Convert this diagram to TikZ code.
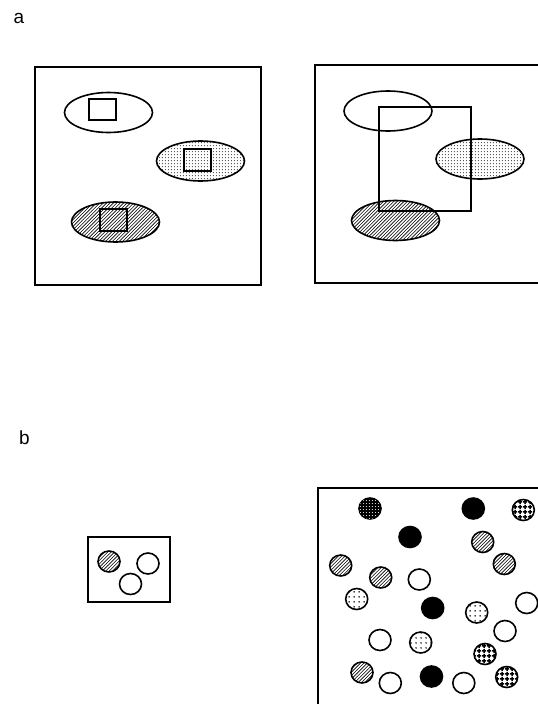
\documentclass[tikz,border=0pt]{standalone}
\usepackage{fontspec}
\setmainfont{Liberation Sans}
\usetikzlibrary{patterns}
\pgfdeclarepatternformonly{gridsq}{\pgfqpoint{0pt}{0pt}}{\pgfqpoint{4.5pt}{4.5pt}}{\pgfqpoint{4.5pt}{4.5pt}}{%
  \pgfsetlinewidth{1.8pt}%
  \pgfpathmoveto{\pgfqpoint{2.25pt}{0pt}}\pgfpathlineto{\pgfqpoint{2.25pt}{4.5pt}}%
  \pgfpathmoveto{\pgfqpoint{0pt}{2.25pt}}\pgfpathlineto{\pgfqpoint{4.5pt}{2.25pt}}%
  \pgfusepath{stroke}}
\pgfdeclarepatternformonly{dotgrid}{\pgfqpoint{0pt}{0pt}}{\pgfqpoint{4.5pt}{4.5pt}}{\pgfqpoint{4.5pt}{4.5pt}}{%
  \pgfpathcircle{\pgfqpoint{2.25pt}{2.25pt}}{0.9pt}%
  \pgfusepath{fill}}
\pgfdeclarepatternformonly{stipple}{\pgfqpoint{0pt}{0pt}}{\pgfqpoint{3.3pt}{3.3pt}}{\pgfqpoint{3.3pt}{3.3pt}}{%
  \pgfpathcircle{\pgfqpoint{1.65pt}{1.65pt}}{0.6pt}%
  \pgfusepath{fill}}
\pgfdeclarepatternformonly{hatchne}{\pgfqpoint{-1pt}{-1pt}}{\pgfqpoint{4.5pt}{4.5pt}}{\pgfqpoint{3.4pt}{3.4pt}}{%
  \pgfsetlinewidth{0.6pt}%
  \pgfpathmoveto{\pgfqpoint{0pt}{0pt}}\pgfpathlineto{\pgfqpoint{3.5pt}{3.5pt}}%
  \pgfusepath{stroke}}
\tikzset{
  outl/.style={line width=1.6pt},
  hatchfill/.style={outl, pattern=hatchne},
  stipfill/.style={outl, pattern=stipple},
  solidfill/.style={outl, fill=black},
  darkdots/.style={outl, fill=black, postaction={pattern=stipple, pattern color=white}},
  darkgrid/.style={outl, fill=white, postaction={pattern=gridsq}},
  lightgrid/.style={outl, pattern=dotgrid},
  emptyfill/.style={outl, fill=white},
  lbl/.style={inner sep=0pt, font=\fontsize{19}{22}\selectfont},
  ell/.style={x radius=44, y radius=20},
  circ/.style={x radius=11, y radius=10.5}
}
\begin{document}
\begin{tikzpicture}[x=1pt, y=-1pt]
\clip (0,0) rectangle (538,704);
\fill[white] (0,0) rectangle (538,704);

% labels
\node[lbl] (la) at (19,18.5) {a};
\node[lbl] (lb) at (24.5,438) {b};

% panel a left
\draw[outl] (35,67) rectangle (261,285);
\draw[emptyfill] (108.5,112.5) ellipse [ell];
\draw[outl] (89,99) rectangle (116,120);
\draw[stipfill] (200.5,161) ellipse [ell];
\draw[outl] (184,149) rectangle (211,171);
\draw[hatchfill] (115.5,222) ellipse [ell];
\draw[outl] (100,209) rectangle (127,231);

% panel a right
\draw[outl] (315,65) rectangle (560,283);
\draw[outl] (388,111) ellipse [ell];
\draw[stipfill] (480,159) ellipse [ell];
\draw[hatchfill] (395.5,220.5) ellipse [ell];
\draw[outl] (379,107) rectangle (471,211);

% panel b left
\draw[outl] (88,537) rectangle (170,602);
\draw[hatchfill] (109,561.5) ellipse [circ];
\draw[emptyfill] (148,563.5) ellipse [circ];
\draw[emptyfill] (130.5,584) ellipse [circ];

% panel b right
\draw[outl] (318,488) rectangle (560,710);
\draw[darkdots] (370,508.5) ellipse [circ];
\draw[solidfill] (473.3,508.5) ellipse [circ];
\draw[darkgrid] (523.3,510) ellipse [circ];
\draw[solidfill] (410,537) ellipse [circ];
\draw[hatchfill] (482.7,542) ellipse [circ];
\draw[hatchfill] (340.7,565.5) ellipse [circ];
\draw[hatchfill] (504.3,564) ellipse [circ];
\draw[hatchfill] (380.7,577.5) ellipse [circ];
\draw[emptyfill] (419.3,579.5) ellipse [circ];
\draw[lightgrid] (356.7,599) ellipse [circ];
\draw[solidfill] (432.7,608) ellipse [circ];
\draw[lightgrid] (476.7,612.5) ellipse [circ];
\draw[emptyfill] (526.7,603) ellipse [circ];
\draw[emptyfill] (505,631) ellipse [circ];
\draw[emptyfill] (380,640) ellipse [circ];
\draw[lightgrid] (420.7,642.5) ellipse [circ];
\draw[darkgrid] (485,654) ellipse [circ];
\draw[hatchfill] (362,672.5) ellipse [circ];
\draw[emptyfill] (390.3,683) ellipse [circ];
\draw[solidfill] (431.5,676.5) ellipse [circ];
\draw[emptyfill] (463.8,683) ellipse [circ];
\draw[darkgrid] (506.7,677) ellipse [circ];
\end{tikzpicture}
\end{document}
